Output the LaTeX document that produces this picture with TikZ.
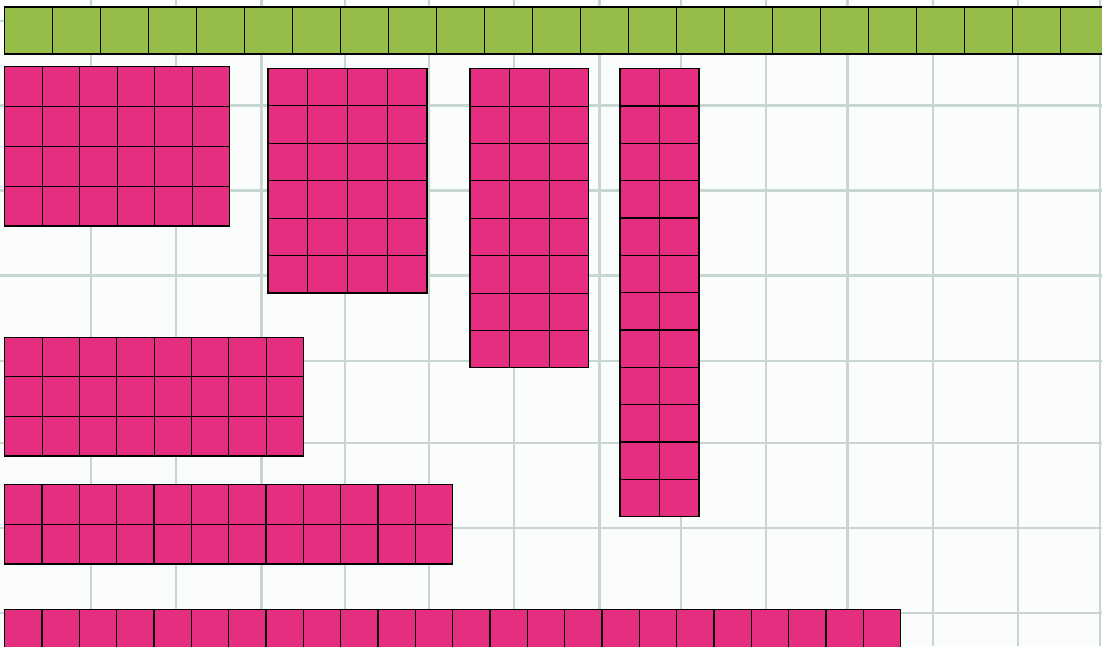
\documentclass[tikz,border=0pt]{standalone}
\definecolor{pinkc}{HTML}{E62E80}
\definecolor{greenc}{HTML}{95BD48}
\definecolor{gridc}{HTML}{C8D6D1}
\definecolor{bgc}{HTML}{FBFDFC}
\newcommand\myblock[6]{%
  \foreach \i in {1,...,#3}{%
    \foreach \j in {1,...,#4}{%
      \filldraw[pinkcell] ({#1+(\i-1)*#5},{#2+(\j-1)*#6}) rectangle ++(#5,#6);
    }%
  }%
}
\begin{document}
\begin{tikzpicture}[x=1pt,y=-1pt,
  pinkcell/.style={fill=pinkc,draw=black,line width=1.1pt},
  greencell/.style={fill=greenc,draw=black,line width=1.1pt},
  gridline/.style={draw=gridc,line width=2.3pt}]
\useasboundingbox (0,0) rectangle (1102,646);
\clip (0,0) rectangle (1102,646);
\fill[bgc] (0,0) rectangle (1102,646);
% background grid
\foreach \x in {90.7,176,261.5,345,429,514,599.5,681,766,847.5,933,1018,1100}
  \draw[gridline] (\x,0) -- (\x,646);
\foreach \y in {21,105.5,190.5,275.5,361,442.7,528,613}
  \draw[gridline] (0,\y) -- (1102,\y);
% green row of 24
\foreach \i in {0,...,23}
  \filldraw[greencell] ({4.7+48*\i},7) rectangle ++(48,47);
% pink arrays
\myblock{4.7}{66.7}{6}{4}{37.5}{39.83}
\myblock{268}{68.3}{4}{6}{39.75}{37.45}
\myblock{470}{68.7}{3}{8}{39.55}{37.4}
\myblock{620}{68.7}{2}{12}{39.5}{37.33}
\myblock{4.7}{337.3}{8}{3}{37.37}{39.57}
\myblock{4.7}{484.7}{12}{2}{37.33}{39.65}
\myblock{4.7}{609.7}{24}{1}{37.33}{39.7}
\end{tikzpicture}
\end{document}
